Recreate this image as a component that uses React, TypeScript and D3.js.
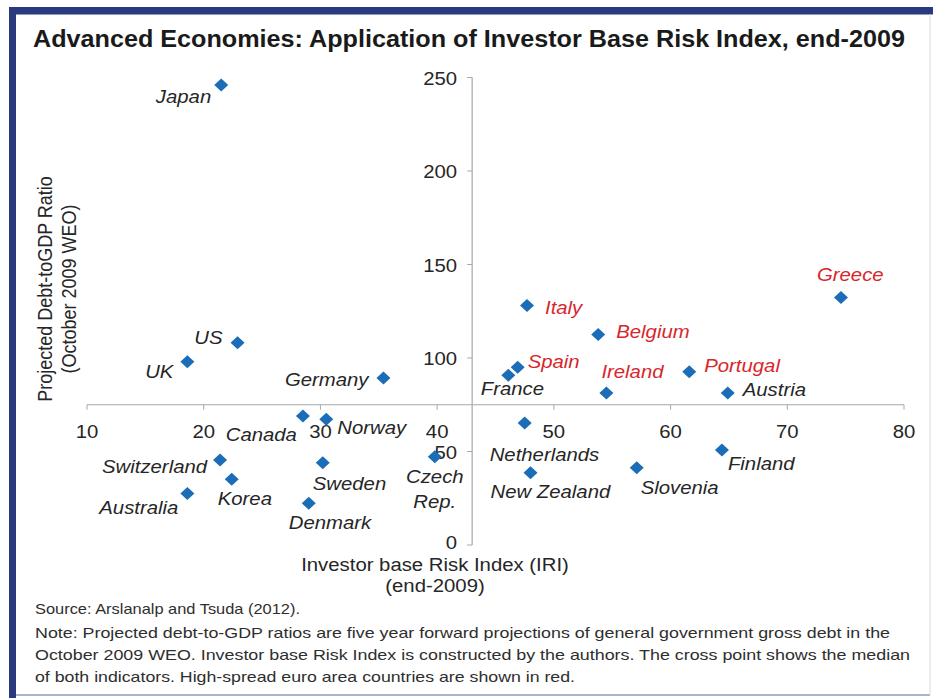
import React from "react";
import * as d3 from "d3";

const countries = ["Japan","US","UK","Germany","Canada","Norway","Switzerland","Korea","Australia","Sweden","Denmark","Czech Rep.","Italy","Belgium","Spain","France","Ireland","Portugal","Austria","Greece","Netherlands","New Zealand","Slovenia","Finland"];
const iri =  [21.5, 22.9, 18.6, 35.4, 28.5, 30.5, 21.4, 22.4, 18.6, 30.2, 29.0, 39.8, 47.7, 53.8, 46.9, 46.1, 54.5, 61.6, 64.9, 74.6, 47.5, 48.0, 57.1, 64.4];
const debt = [246.0, 108.2, 98.0, 89.3, 69.0, 67.2, 45.5, 35.1, 27.6, 44.0, 22.3, 47.2, 128.1, 112.6, 95.0, 90.8, 81.3, 92.6, 81.3, 132.3, 65.3, 38.6, 41.3, 50.8];
const highSpread = ["Italy","Belgium","Spain","Ireland","Portugal","Greece"];

const xTicks = [10, 20, 30, 40, 50, 60, 70, 80];
const yTicks = [0, 50, 100, 150, 200, 250];
const medianIri = 43;
const medianDebt = 75;

const title = "Advanced Economies: Application of Investor Base Risk Index, end-2009";
const xTitle = ["Investor base Risk Index (IRI)", "(end-2009)"];
const yTitle = ["Projected Debt-toGDP Ratio", "(October 2009 WEO)"];
const notes = [
  "Source: Arslanalp and Tsuda (2012).",
  "Note: Projected debt-to-GDP ratios are five year forward projections of general government gross debt in the",
  "October 2009 WEO. Investor base Risk Index is constructed by the authors. The cross point shows the median",
  "of both indicators. High-spread euro area countries are shown in red.",
];

// label placement (layout only): [dx, dy, anchor]
const labelPlace: Record<string, [number, number, string]> = {
  "Japan": [-10, 18, "end"],
  "US": [-15, 1, "end"],
  "UK": [-14, 16, "end"],
  "Germany": [-15, 8, "end"],
  "Canada": [-6, 25, "end"],
  "Norway": [11, 15, "start"],
  "Switzerland": [-13, 13, "end"],
  "Korea": [-14, 26, "start"],
  "Australia": [-9, 21, "end"],
  "Sweden": [-10, 27, "start"],
  "Denmark": [-20, 26, "start"],
  "Czech Rep.": [0, 26, "middle"],
  "Italy": [18, 9, "start"],
  "Belgium": [18, 4, "start"],
  "Spain": [10, 1, "start"],
  "France": [4, 20, "middle"],
  "Ireland": [-5, -15, "start"],
  "Portugal": [15, 0, "start"],
  "Austria": [15, 3, "start"],
  "Greece": [-24, -17, "start"],
  "Netherlands": [-35, 38, "start"],
  "New Zealand": [-40, 25, "start"],
  "Slovenia": [4, 26, "start"],
  "Finland": [6, 20, "start"],
};

const W = 933, H = 698;
const SX = 1.13;
const FONT = "'Liberation Sans', Arial, sans-serif";
const NAVY = "#293a7e";
const BLUE = "#1c6db7";
const RED = "#d8262c";
const DARK = "#262626";
const AXIS = "#a8a8a8";

function SText({ x, y, anchor = "start", size = 18, italic = false, fill = DARK, children }: any) {
  return (
    <text transform={`translate(${x},${y}) scale(${SX},1)`} textAnchor={anchor}
      fontSize={size} fontStyle={italic ? "italic" : "normal"} fill={fill} fontFamily={FONT}>
      {children}
    </text>
  );
}

export default function App() {
  const x = d3.scaleLinear().domain([10, 80]).range([87, 904]);
  const y = d3.scaleLinear().domain([0, 250]).range([545, 77.5]);
  const ax = x(medianIri);
  const ay = y(medianDebt);
  const dw = 7, dh = 6.5;

  return (
    <svg width={W} height={H} style={{ position: "absolute", left: 0, top: 0, background: "#fff" }}>
      <rect x={0} y={0} width={W} height={H} fill="#fff" />
      {/* frame */}
      <rect x={9} y={7} width={W - 9} height={7} fill={NAVY} />
      <rect x={9} y={7} width={7} height={H - 7} fill={NAVY} />
      <line x1={16} x2={W} y1={14.5} y2={14.5} stroke="#8b97c0" strokeWidth={1} />
      <line x1={16} x2={930} y1={695} y2={695} stroke="#a9b4cf" strokeWidth={2} />
      <line x1={930} x2={930} y1={14} y2={695} stroke="#d6d9e0" strokeWidth={1} />

      <text x={33} y={47} fontSize={23} fontWeight="bold" fill="#1a1a1a" fontFamily={FONT}
        textLength={872} lengthAdjust="spacingAndGlyphs">{title}</text>

      {/* axes */}
      <line x1={x(10)} x2={x(80)} y1={ay} y2={ay} stroke={AXIS} strokeWidth={1.2} />
      <line x1={ax} x2={ax} y1={y(250)} y2={y(0)} stroke={AXIS} strokeWidth={1.2} />
      {xTicks.map((t) => (
        <g key={"xt" + t}>
          <line x1={x(t)} x2={x(t)} y1={ay} y2={ay + 5} stroke={AXIS} strokeWidth={1} />
          <SText x={x(t)} y={ay + 33} anchor="middle" size={18}>{t}</SText>
        </g>
      ))}
      {yTicks.map((t) => (
        <g key={"yt" + t}>
          <line x1={ax - 5} x2={ax} y1={y(t)} y2={y(t)} stroke={AXIS} strokeWidth={1} />
          <SText x={ax - 15} y={y(t) + (t === 0 ? 4 : 7)} anchor="end" size={18}>{t}</SText>
        </g>
      ))}

      {/* axis titles */}
      <SText x={435} y={571} anchor="middle" size={18}>{xTitle[0]}</SText>
      <SText x={435} y={592} anchor="middle" size={18}>{xTitle[1]}</SText>
      <g transform={`translate(52,289) rotate(-90) scale(1,${SX})`}>
        <text textAnchor="middle" fontSize={18} fill={DARK} fontFamily={FONT}>{yTitle[0]}</text>
      </g>
      <g transform={`translate(76,289) rotate(-90) scale(1,${SX})`}>
        <text textAnchor="middle" fontSize={18} fill={DARK} fontFamily={FONT}>{yTitle[1]}</text>
      </g>

      {/* points */}
      {countries.map((c, i) => {
        const px = x(iri[i]);
        const py = y(debt[i]);
        const p = d3.path();
        p.moveTo(px, py - dh);
        p.lineTo(px + dw, py);
        p.lineTo(px, py + dh);
        p.lineTo(px - dw, py);
        p.closePath();
        return <path key={"pt" + c} d={p.toString()} fill={BLUE} />;
      })}

      {/* labels */}
      {countries.map((c, i) => {
        const px = x(iri[i]);
        const py = y(debt[i]);
        const [dx, dy, anchor] = labelPlace[c];
        const fill = highSpread.includes(c) ? RED : DARK;
        if (c === "Czech Rep.") {
          return (
            <g key={"lb" + c}>
              <SText x={px + dx} y={py + dy} anchor={anchor} italic fill={fill}>Czech</SText>
              <SText x={px + dx} y={py + dy + 25} anchor={anchor} italic fill={fill}>Rep.</SText>
            </g>
          );
        }
        return <SText key={"lb" + c} x={px + dx} y={py + dy} anchor={anchor} italic fill={fill}>{c}</SText>;
      })}

      {/* notes */}
      {notes.map((n, i) => {
        const lens = [265, 855, 875, 540];
        const ys = [614, 638, 660, 682];
        return (
          <text key={"n" + i} x={35} y={ys[i]} fontSize={15} fill="#2e2e2e" fontFamily={FONT}
            textLength={lens[i]} lengthAdjust="spacingAndGlyphs">{n}</text>
        );
      })}
    </svg>
  );
}
